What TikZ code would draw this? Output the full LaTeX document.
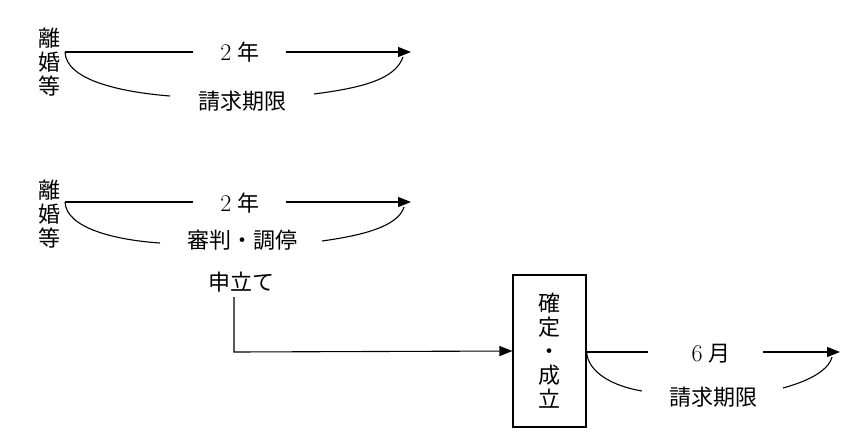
\documentclass[tikz,border=0pt]{standalone}
\usepackage{fontspec}
\newfontfamily\cjk{Noto Sans CJK JP}
\usetikzlibrary{arrows.meta}
\begin{document}
\begin{tikzpicture}[x=1pt,y=-1pt,
  every node/.style={inner sep=0pt,font=\fontsize{22}{24}\selectfont\cjk},
  ln/.style={line width=1.1pt},
  arr/.style={ln,-{Triangle[length=13pt,width=10pt]}},
  vtxt/.style={align=center},
  dg/.style={}]
\useasboundingbox (0,0) rectangle (861,440);
% ---- row 1
\node[vtxt] (r1) at (49,62) {離\\婚\\等};
\coordinate (s1) at (65,52);
\coordinate (e1) at (411,52);
\node (t1) at (240,52) {{\fontfamily{lmr}\fontsize{24}{24}\selectfont 2}\hspace{6pt}年};
\node (q1) at (242,101) {請求期限};
\draw[ln] (s1) -- (193,52);
\draw[arr] (286,52) -- (e1);
\draw[ln] (s1) .. controls (66,80) and (120,92) .. (170,96);
\draw[ln] (314,94) .. controls (360,88) and (395,80) .. (403,57);
% ---- row 2
\node[vtxt] (r2) at (49,214) {離\\婚\\等};
\coordinate (s2) at (65,202);
\coordinate (e2) at (411,202);
\node (t2) at (240,203) {{\fontfamily{lmr}\fontsize{24}{24}\selectfont 2}\hspace{6pt}年};
\node (q2) at (242,240) {審判・調停};
\draw[ln] (s2) -- (193,202);
\draw[arr] (286,202) -- (e2);
\draw[ln] (s2) .. controls (66,228) and (115,240) .. (160,243);
\draw[ln] (322,241) .. controls (365,235) and (398,226) .. (404,207);
\node (m) at (241,282) {申立て};
\coordinate (c) at (234,352);
\node[draw,line width=1.1pt,minimum width=73pt,minimum height=152pt,vtxt] (b) at (549.5,351) {確\\定\\・\\成\\立};
\draw[arr] (234,297) -- (c) -- (b.west);
% ---- row 3
\coordinate (e3) at (840,352);
\node (t3) at (711,354) {{\fontfamily{lmr}\fontsize{24}{24}\selectfont 6}\hspace{6pt}月};
\node (q3) at (713,397) {請求期限};
\draw[ln] (b.east |- c) -- (648,352);
\draw[arr] (763,352) -- (e3);
\draw[ln] (b.east |- c) .. controls (588,372) and (612,386) .. (642,391);
\draw[ln] (783,388) .. controls (805,382) and (828,372) .. (832,357);
\end{tikzpicture}
\end{document}
